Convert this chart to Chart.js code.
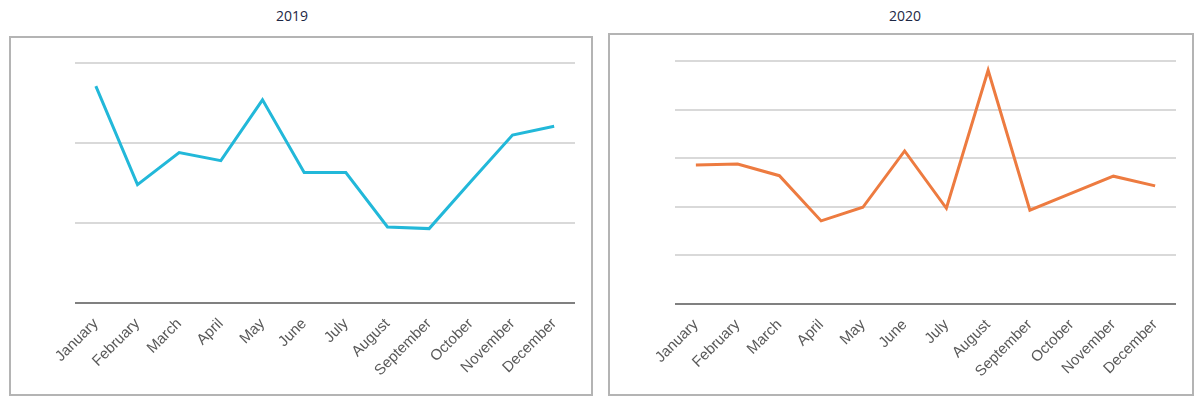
<!DOCTYPE html>
<html>
<head>
<meta charset="utf-8">
<script src="https://cdn.jsdelivr.net/npm/chart.js@4.4.1/dist/chart.umd.min.js"></script>
<style>
  html, body { margin: 0; padding: 0; background: #fff; }
  body { width: 1200px; height: 400px; position: relative; overflow: hidden; }
  .title {
    position: absolute; top: 6px; width: 120px; margin-left: -60px;
    text-align: center; font: 14px "Open Sans", "Noto Sans", sans-serif; color: #1d2744;
  }
  .panel { position: absolute; border: 2px solid #b4b4b4; box-sizing: border-box; background: #fff; }
  .panel canvas { display: block; }
</style>
</head>
<body>
<div class="title" style="left:292px">2019</div>
<div class="title" style="left:905px">2020</div>
<div class="panel" id="p2019" style="left:9px; top:36px; width:584px; height:360px;"><canvas id="c2019"></canvas></div>
<div class="panel" id="p2020" style="left:608px; top:33px; width:586px; height:363px;"><canvas id="c2020"></canvas></div>
<script>
const months = ['January', 'February', 'March', 'April', 'May', 'June',
  'July', 'August', 'September', 'October', 'November', 'December'];
const values2019 = [2.71, 1.48, 1.88, 1.78, 2.54, 1.63, 1.63, 0.95, 0.93, 1.52, 2.10, 2.21];
const values2020 = [2.86, 2.88, 2.64, 1.71, 1.99, 3.15, 1.97, 4.81, 1.93, 2.28, 2.63, 2.43];

function makeChart(id, values, color, yMax, pad, axisHeight) {
  const panel = document.getElementById('p' + id);
  const canvas = document.getElementById('c' + id);
  canvas.width = panel.clientWidth;
  canvas.height = panel.clientHeight;
  return new Chart(canvas.getContext('2d'), {
    type: 'line',
    data: {
      labels: months,
      datasets: [{
        data: values,
        borderColor: color,
        borderWidth: 3,
        pointRadius: 0,
        tension: 0,
        fill: false
      }]
    },
    options: {
      responsive: false,
      animation: false,
      layout: { padding: pad },
      plugins: { legend: { display: false }, tooltip: { enabled: false } },
      scales: {
        x: {
          offset: true,
          grid: { display: false },
          border: { display: false },
          ticks: {
            autoSkip: false,
            minRotation: 45,
            maxRotation: 45,
            padding: 4,
            color: '#595959',
            font: { family: '"Liberation Sans", Arial, sans-serif', size: 15 }
          },
          afterFit: function (scale) { scale.height = axisHeight; }
        },
        y: {
          min: 0,
          max: yMax,
          ticks: { display: false, stepSize: 1 },
          border: { display: false },
          grid: {
            drawTicks: false,
            lineWidth: 2,
            color: function (ctx) { return ctx.tick && ctx.tick.value === 0 ? '#808080' : '#d9d9d9'; }
          }
        }
      }
    }
  });
}

makeChart('2019', values2019, '#22b8d9', 3, { left: 64, right: 16, top: 25, bottom: 0 }, 91);
makeChart('2020', values2020, '#ed7b40', 5, { left: 65, right: 16, top: 26, bottom: 0 }, 90);
</script>
</body>
</html>
